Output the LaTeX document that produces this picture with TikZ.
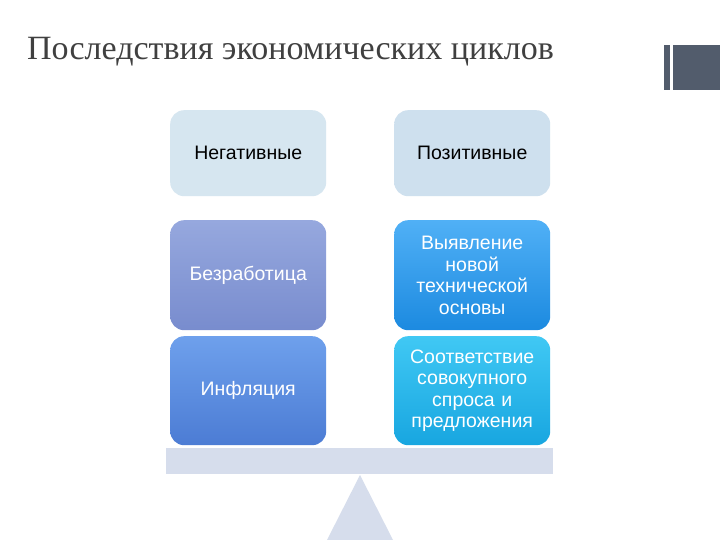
\documentclass[tikz,border=0pt]{standalone}
\usepackage{fontspec}
\setmainfont{Liberation Serif}
\newfontfamily\boxfont{Liberation Sans}
\definecolor{cA}{RGB}{150,168,222}\definecolor{cB}{RGB}{120,140,206}
\definecolor{cC}{RGB}{80,176,246}\definecolor{cD}{RGB}{28,138,224}
\definecolor{cE}{RGB}{110,160,236}\definecolor{cF}{RGB}{76,124,212}
\definecolor{cG}{RGB}{64,200,244}\definecolor{cH}{RGB}{24,166,224}
\definecolor{cL}{RGB}{214,230,240}\definecolor{cM}{RGB}{206,224,238}
\definecolor{bar}{RGB}{214,221,236}\definecolor{deco}{RGB}{82,92,108}
\begin{document}
\begin{tikzpicture}[x=1pt,y=-1pt,
 bx/.style={rounded corners=14pt,minimum width=156pt,inner sep=2pt,align=center,text width=150pt,font=\boxfont\fontsize{19.5}{21.5}\selectfont,anchor=north west},
 hd/.style={bx,minimum height=86pt,text=black},
 dk/.style={bx,minimum height=110pt,text=white}]
\useasboundingbox (0,0) rectangle (720,540);
\fill[white] (0,0) rectangle (720,540);
\node[anchor=base west,font=\fontsize{34}{38}\selectfont,text=black!75,inner sep=0pt] (title) at (27,60) {Последствия экономических циклов};
\fill[deco] (664,45) rectangle (720,90);
\fill[white] (670,45) rectangle (673,90);
\node[hd,top color=cL,bottom color=cL] (neg) at (170,110) {Негативные};
\node[hd,top color=cM,bottom color=cM] (pos) at (394,110) {Позитивные};
\node[dk,top color=cA,bottom color=cB] (b1) at (170,220) {Безработица};
\node[dk,top color=cC,bottom color=cD] (b2) at (394,220) {Выявление\\новой\\технической\\основы};
\node[dk,minimum height=109pt,top color=cE,bottom color=cF] (b3) at (170,336) {Инфляция};
\node[dk,minimum height=109pt,top color=cG,bottom color=cH] (b4) at (394,336) {Соответствие\\совокупного\\спроса и\\предложения};
\fill[bar] (166,448) rectangle (553,474);
\fill[bar] (360,475) -- (393,540) -- (327,540) -- cycle;
\end{tikzpicture}
\end{document}
